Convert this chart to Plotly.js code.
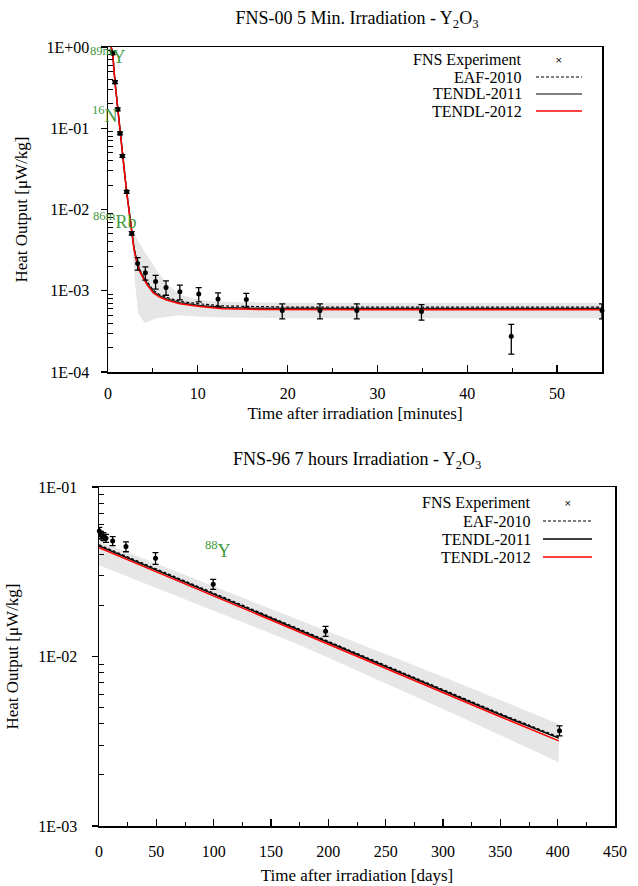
<!DOCTYPE html>
<html><head><meta charset="utf-8">
<script src="https://cdn.plot.ly/plotly-3.0.1.min.js"></script>
<style>html,body{margin:0;padding:0;background:#fff}</style>
</head><body><div id="chart" style="width:638px;height:886px"></div>
<script>
// ---------- Top chart: FNS-00 5 min irradiation (time in minutes) ----------
const expT1 = [0.52, 0.78, 1.08, 1.34, 1.6, 2.08, 2.64, 3.3, 4.16, 5.3, 6.46, 8.0, 10.1, 12.25, 15.4, 19.4, 23.6, 27.7, 34.9, 44.9, 55.0];
const expV1 = [0.84, 0.37, 0.171, 0.0865, 0.0455, 0.0165, 0.00508, 0.00217, 0.00166, 0.0013, 0.0011, 0.00097, 0.00091, 0.00079, 0.00078, 0.00057, 0.00057, 0.00057, 0.000556, 0.000276, 0.00057];
const expE1 = [0.034, 0.015, 0.007, 0.0035, 0.0018, 0.0007, 0.00025, 0.00038, 0.00031, 0.00025, 0.00022, 0.0002, 0.00018, 0.00015, 0.00015, 0.00012, 0.00012, 0.00012, 0.00012, 0.00011, 0.00012];

const modT1 = [0.35, 0.52, 0.78, 1.08, 1.34, 1.6, 1.85, 2.08, 2.35, 2.64, 2.9, 3.2, 3.5, 3.9, 4.4, 5.05, 5.7, 6.5, 8.0, 10.2, 12.8, 16, 20, 30, 40, 55];
const eaf1   = [1.0, 0.85, 0.375, 0.173, 0.0875, 0.046, 0.0284, 0.0168, 0.0095, 0.0052, 0.0034, 0.0024, 0.00186, 0.00153, 0.00126, 0.00101, 0.0009, 0.00083, 0.00074, 0.00069, 0.00065, 0.00064, 0.00063, 0.00063, 0.00063, 0.00063];
const t2011a = [1.0, 0.84, 0.37, 0.171, 0.0865, 0.0455, 0.028, 0.0165, 0.0093, 0.0051, 0.0033, 0.0023, 0.0018, 0.00148, 0.00121, 0.00097, 0.00087, 0.0008, 0.00071, 0.00066, 0.00062, 0.00061, 0.000605, 0.000603, 0.000603, 0.000603];
const t2012a = [1.0, 0.83, 0.365, 0.169, 0.0855, 0.045, 0.0276, 0.0162, 0.0091, 0.005, 0.0032, 0.00225, 0.00175, 0.00144, 0.00117, 0.00094, 0.00084, 0.00077, 0.00069, 0.00064, 0.0006, 0.00059, 0.000585, 0.000583, 0.000583, 0.000583];

const bandT1  = [0.35, 0.52, 0.78, 1.08, 1.34, 1.6, 2.08, 2.64, 2.9, 3.1, 3.37, 4.1, 5.4, 6.5, 8.0, 10.2, 13, 20, 55];
const bandHi1 = [1.05, 0.88, 0.39, 0.18, 0.091, 0.048, 0.0175, 0.0062, 0.0052, 0.0046, 0.0041, 0.003, 0.0018, 0.00123, 0.00089, 0.00077, 0.00073, 0.00071, 0.00071];
const bandLo1 = [0.95, 0.8, 0.35, 0.162, 0.082, 0.043, 0.0157, 0.0042, 0.002, 0.001, 0.00052, 0.0004, 0.00046, 0.00048, 0.0005, 0.00048, 0.00047, 0.00046, 0.00046];

// ---------- Bottom chart: FNS-96 7 hours irradiation (time in days) ----------
const expT2 = [0.3, 1.7, 3.8, 6.1, 11.9, 23.5, 49.3, 99.6, 197.6, 401.6];
const expV2 = [0.055, 0.052, 0.051, 0.0498, 0.048, 0.0445, 0.038, 0.0267, 0.0141, 0.00365];
const expE2 = [0.0028, 0.0027, 0.0027, 0.0027, 0.0029, 0.003, 0.003, 0.0018, 0.00095, 0.00025];

const modT2  = [0, 50, 100, 150, 200, 250, 300, 350, 401];
const eaf2   = [0.0456, 0.0329, 0.0237, 0.0171, 0.0123, 0.0089, 0.0064, 0.0046, 0.00335];
const t2011b = [0.0449, 0.0324, 0.0233, 0.0168, 0.0121, 0.0087, 0.0063, 0.00453, 0.0033];
const t2012b = [0.0439, 0.0316, 0.0228, 0.0164, 0.0118, 0.0085, 0.00613, 0.00441, 0.00318];

const bandT2  = [0, 100, 175, 300, 401];
const bandHi2 = [0.048, 0.0259, 0.0164, 0.0076, 0.0040];
const bandLo2 = [0.0346, 0.0186, 0.0117, 0.0049, 0.00238];

const seriesNames = ["FNS Experiment", "EAF-2010", "TENDL-2011", "TENDL-2012"];
const yTickVals1 = [1, 0.1, 0.01, 0.001, 0.0001];
const yTickText1 = ["1E+00", "1E-01", "1E-02", "1E-03", "1E-04"];
const yTickVals2 = [0.1, 0.01, 0.001];
const yTickText2 = ["1E-01", "1E-02", "1E-03"];

// ---------- layout helpers ----------
const W = 638, H = 886;
const FONT = "Liberation Serif, Times New Roman, serif";
const GREEN = "#3f9a3f";
const px = p => p / W, py = p => 1 - p / H;

function minorVals(lo, hi) {
  const v = [];
  for (let d = lo; d < hi; d++) for (let m = 2; m <= 9; m++) v.push(m * Math.pow(10, d));
  return v;
}

function band(t, hi, lo, xa, ya) {
  return {
    x: t.concat(t.slice().reverse()),
    y: hi.concat(lo.slice().reverse()),
    xaxis: xa, yaxis: ya, type: "scatter", mode: "lines",
    fill: "toself", fillcolor: "#e6e6e6", line: {width: 0},
    hoverinfo: "skip", showlegend: false
  };
}
function line(t, v, name, color, dash, w, xa, ya) {
  return {x: t, y: v, xaxis: xa, yaxis: ya, type: "scatter", mode: "lines", name: name,
          line: {color: color, width: w, dash: dash}, showlegend: false};
}
function pts(t, v, e, xa, ya) {
  return {x: t, y: v, xaxis: xa, yaxis: ya, type: "scatter", mode: "markers", name: seriesNames[0],
          marker: {color: "black", size: 5},
          error_y: {type: "data", array: e, visible: true, color: "black", thickness: 1.3, width: 3},
          cliponaxis: false, showlegend: false};
}

const traces = [
  band(bandT1, bandHi1, bandLo1, "x", "y"),
  line(modT1, eaf1, seriesNames[1], "black", "3px,2px", 1.2, "x", "y"),
  line(modT1, t2011a, seriesNames[2], "#222", "solid", 1.5, "x", "y"),
  line(modT1, t2012a, seriesNames[3], "#ff0000", "solid", 1.5, "x", "y"),
  pts(expT1, expV1, expE1, "x", "y"),
  band(bandT2, bandHi2, bandLo2, "x2", "y2"),
  line(modT2, eaf2, seriesNames[1], "black", "3px,2px", 1.2, "x2", "y2"),
  line(modT2, t2011b, seriesNames[2], "black", "solid", 1.5, "x2", "y2"),
  line(modT2, t2012b, seriesNames[3], "#ff0000", "solid", 1.5, "x2", "y2"),
  pts(expT2, expV2, expE2, "x2", "y2")
];

const tickFont = {family: FONT, size: 16, color: "black"};
const titleFont = {family: FONT, size: 17, color: "black"};

function xAxis(domain, anchor, range, dtick, minorD, title, standoff, lstand) {
  return {domain: domain, anchor: anchor, range: range, dtick: dtick, tick0: 0,
          showline: true, linecolor: "black", linewidth: 1.5, mirror: true,
          ticks: "inside", ticklen: 7, tickcolor: "black", tickwidth: 1.2, ticklabelstandoff: lstand,
          minor: {dtick: minorD, ticks: "inside", ticklen: 4, tickcolor: "black", tickwidth: 1, showgrid: false},
          showgrid: false, zeroline: false, tickfont: tickFont,
          title: {text: title, font: titleFont, standoff: standoff}, automargin: false};
}
function yAxis(domain, anchor, range, tv, tt, mlo, mhi, title, standoff, lstand) {
  return {domain: domain, anchor: anchor, type: "log", range: range,
          tickmode: "array", tickvals: tv, ticktext: tt,
          showline: true, linecolor: "black", linewidth: 1.5, mirror: true,
          ticks: "outside", ticklen: 6, tickcolor: "black", tickwidth: 1.2, ticklabelstandoff: lstand,
          minor: {tickmode: "array", tickvals: minorVals(mlo, mhi), ticks: "inside", ticklen: 5,
                  tickcolor: "black", tickwidth: 1, showgrid: false},
          showgrid: false, zeroline: false, tickfont: tickFont,
          title: {text: title, font: titleFont, standoff: standoff}, automargin: false};
}

// custom legends (text right-aligned, key to the right like the original)
const annotations = [];
const shapes = [];
function legend(rows, textRight, keyX0, keyX1, colors, dashes) {
  rows.forEach((yy, i) => {
    annotations.push({xref: "paper", yref: "paper", x: px(textRight), y: py(yy), xanchor: "right", yanchor: "middle",
                      text: seriesNames[i], showarrow: false, borderpad: 0,
                      font: {family: FONT, size: 16, color: "black"}});
    if (i === 0) {
      annotations.push({xref: "paper", yref: "paper", x: px((keyX0 + keyX1) / 2), y: py(yy), xanchor: "center", yanchor: "middle",
                        text: "×", showarrow: false, borderpad: 0, font: {family: "DejaVu Sans", size: 9, color: "black"}});
    } else {
      shapes.push({type: "line", xref: "paper", yref: "paper", x0: px(keyX0), x1: px(keyX1), y0: py(yy), y1: py(yy),
                   line: {color: colors[i], width: dashes[i] === "solid" ? 1.5 : 1.2, dash: dashes[i]}});
    }
  });
}
legend([60, 77, 94, 111], 523, 536, 582, ["black", "black", "#555", "#ff0000"], ["", "3px,2px", "solid", "solid"]);
legend([503, 521, 539, 557], 532, 543, 592, ["black", "black", "black", "#ff0000"], ["", "3px,2px", "solid", "solid"]);

// nuclide labels
function nucl(text, x, y, xa, ya) {
  annotations.push({xref: xa, yref: ya, x: x, y: y, xanchor: "right", yanchor: "middle", text: text,
                    showarrow: false, font: {family: FONT, size: 18, color: GREEN}});
}
nucl("<sup>89m</sup>Y", 2.1, -0.1, "x", "y");
nucl("<sup>16</sup>N", 1.34, -0.825, "x", "y");
nucl("<sup>86m</sup>Rb", 3.34, -2.13, "x", "y");
nucl("<sup>88</sup>Y", 116.8, -1.369, "x2", "y2");

// second chart title
annotations.push({xref: "paper", yref: "paper", x: px(357), y: py(460), xanchor: "center", yanchor: "middle",
                  text: "FNS-96 7 hours Irradiation - Y<sub>2</sub>O<sub>3</sub>", showarrow: false,
                  font: {family: FONT, size: 18, color: "black"}});

const layout = {
  width: W, height: H, margin: {l: 0, r: 0, t: 0, b: 0}, paper_bgcolor: "white", plot_bgcolor: "white",
  showlegend: false,
  title: {text: "FNS-00 5 Min. Irradiation - Y<sub>2</sub>O<sub>3</sub>", font: {family: FONT, size: 18, color: "black"},
          x: px(357), xanchor: "center", xref: "paper", y: py(18), yanchor: "middle", yref: "paper"},
  xaxis: xAxis([px(108), px(602)], "y", [0, 55], 10, 5, "Time after irradiation [minutes]", 6, 6),
  yaxis: yAxis([py(372), py(47)], "x", [-4, 0], yTickVals1, yTickText1, -4, 0, "Heat Output [μW/kg]", 14, 8),
  xaxis2: xAxis([px(99), px(615)], "y2", [0, 450], 50, 25, "Time after irradiation [days]", 10, 10),
  yaxis2: yAxis([py(826), py(487)], "x2", [-3, -1], yTickVals2, yTickText2, -3, -1, "Heat Output [μW/kg]", 15, 11),
  annotations: annotations, shapes: shapes
};

Plotly.newPlot("chart", traces, layout, {staticPlot: true, displayModeBar: false});
</script>
</body></html>
